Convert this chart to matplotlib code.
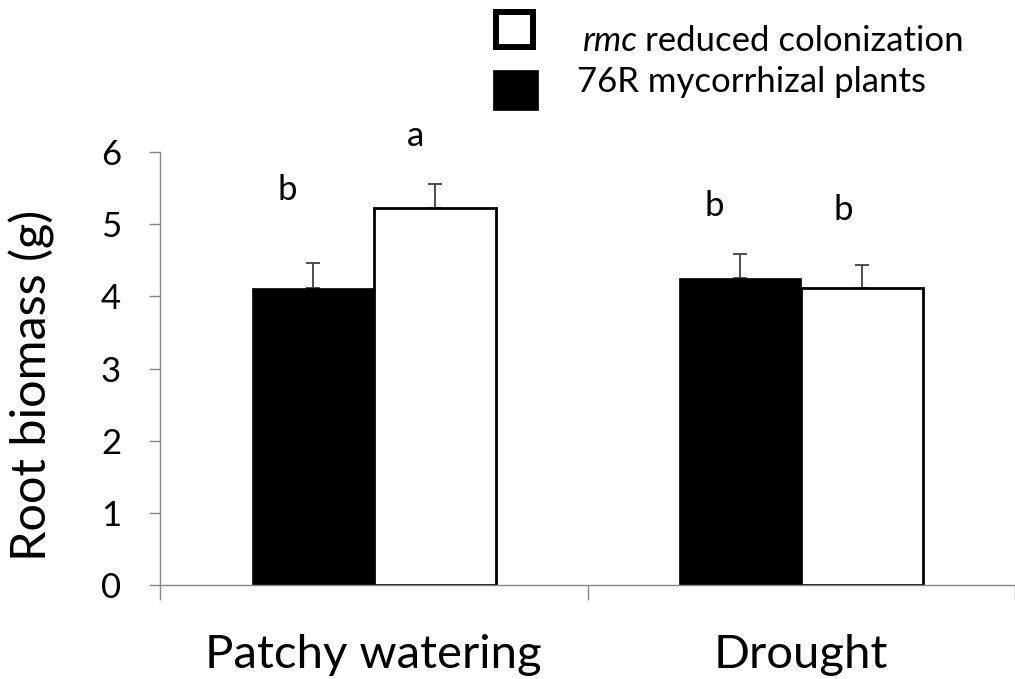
import matplotlib
matplotlib.use("Agg")
import matplotlib.pyplot as plt
from matplotlib.patches import Rectangle
from matplotlib.transforms import blended_transform_factory
import numpy as np

plt.rcParams['font.family'] = ['Lato', 'DejaVu Sans']

# ---- data ----
categories = ["Patchy watering", "Drought"]
mycorrhizal_76R = [4.12, 4.26]      # black bars
mycorrhizal_err = [0.34, 0.33]
rmc_reduced = [5.22, 4.11]          # white bars
rmc_err = [0.33, 0.33]
sig_76R = ["b", "b"]
sig_76R_y = [5.33, 5.12]
sig_rmc = ["a", "b"]
sig_rmc_y = [6.09, 5.06]
yticks = [0, 1, 2, 3, 4, 5, 6]

W, H = 1015, 679
fig = plt.figure(figsize=(W / 100, H / 100), dpi=100)
ax = fig.add_axes([160 / W, (H - 585) / H, (W - 160) / W, (585 - 152) / H])

centers = np.arange(len(categories)) + 0.5
bw = 0.285
gray = '#868686'
errc = '#404040'

ax.bar(centers - bw / 2, mycorrhizal_76R, bw, color='black', edgecolor='black',
       linewidth=0.5, zorder=2)
ax.bar(centers + bw / 2, rmc_reduced, bw, color='white', edgecolor='black',
       linewidth=2.0, zorder=2)
ax.errorbar(centers - bw / 2, mycorrhizal_76R, yerr=[np.zeros(2), mycorrhizal_err],
            fmt='none', ecolor=errc, elinewidth=1.3, capsize=4.7, capthick=1.3, zorder=1)
ax.errorbar(centers + bw / 2, rmc_reduced, yerr=[np.zeros(2), rmc_err],
            fmt='none', ecolor=errc, elinewidth=1.3, capsize=4.7, capthick=1.3, zorder=1)

ax.set_xlim(0, 2)
ax.set_ylim(0, 6)
for s in ['top', 'right']:
    ax.spines[s].set_visible(False)
for s in ['left', 'bottom']:
    ax.spines[s].set_color(gray)
    ax.spines[s].set_linewidth(1.0)

ax.set_yticks(yticks)
ax.set_yticklabels([str(v) for v in yticks], fontsize=25)
ax.tick_params(axis='y', direction='out', length=8, width=1.0, color=gray, pad=20)
ax.set_xticks([0, 1, 2])
ax.set_xticklabels([])
ax.tick_params(axis='x', direction='out', length=11, width=1.0, color=gray)

tr = blended_transform_factory(ax.transData, ax.transAxes)
for c, lab in zip(centers, categories):
    ax.text(c, (585 - 668) / (585 - 152), lab, transform=tr, ha='center',
            va='baseline', fontsize=34)

# significance letters
for c, s, y in zip(centers, sig_76R, sig_76R_y):
    ax.text(c - bw / 2 - 0.06, y, s, ha='center', va='baseline', fontsize=25)
for c, s, y in zip(centers, sig_rmc, sig_rmc_y):
    ax.text(c + bw / 2 - 0.045, y, s, ha='center', va='baseline', fontsize=25,
            clip_on=False)

fig.text(32 / W, 1 - 385 / H, "Root biomass (g)", rotation=90, ha='center',
         va='center', fontsize=35)

# legend
fig.patches.append(Rectangle((496 / W, 1 - 47 / H), 37 / W, 35 / H, transform=fig.transFigure,
                             facecolor='white', edgecolor='black', linewidth=4.3))
fig.patches.append(Rectangle((493 / W, 1 - 110 / H), 45 / W, 40 / H, transform=fig.transFigure,
                             facecolor='black', edgecolor='black', linewidth=0.5))
t1 = fig.text(583 / W, 1 - 51 / H, "rmc", fontsize=25, va='baseline', ha='left',
              style='italic')
fig.canvas.draw()
bb = t1.get_window_extent()
fig.text((bb.x1 + 7) / W, 1 - 51 / H, "reduced colonization", fontsize=25,
         va='baseline', ha='left')
fig.text(577 / W, 1 - 92 / H, "76R mycorrhizal plants", fontsize=25,
         va='baseline', ha='left')

fig.savefig("out.png", dpi=100)
